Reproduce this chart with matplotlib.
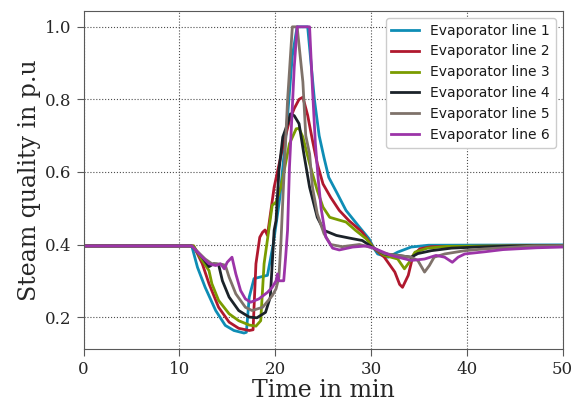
import matplotlib
matplotlib.use("Agg")
import matplotlib.pyplot as plt

# ---- data (time in min, steam quality in p.u.) ----
t1 = [0, 11.3, 11.9, 12.7, 13.8, 14.8, 15.7, 16.75, 17.0, 17.3, 17.8, 18.7, 19.2, 19.8, 20.5, 21.2, 21.8, 22.3, 23.4, 24.1, 24.6, 25.1, 25.6, 26.5, 27.4, 28.8, 29.8, 30.3, 30.7, 31.8, 32.8, 34.2, 36.0, 50]
v1 = [0.396, 0.396, 0.337, 0.282, 0.218, 0.177, 0.163, 0.156, 0.158, 0.255, 0.306, 0.312, 0.315, 0.40, 0.53, 0.72, 0.92, 1.0, 1.0, 0.80, 0.70, 0.64, 0.585, 0.54, 0.494, 0.448, 0.416, 0.39, 0.374, 0.365, 0.379, 0.393, 0.398, 0.399]

t2 = [0, 11.5, 12.4, 13.1, 14.1, 15.2, 16.2, 17.3, 17.7, 18.0, 18.4, 18.7, 18.95, 19.2, 19.9, 20.8, 21.5, 22.0, 22.5, 22.9, 23.4, 23.9, 24.4, 25.0, 25.8, 26.7, 27.7, 29.1, 30.3, 31.4, 32.5, 33.0, 33.3, 33.9, 34.4, 35.1, 36.3, 50]
v2 = [0.396, 0.396, 0.347, 0.292, 0.227, 0.186, 0.169, 0.163, 0.165, 0.347, 0.42, 0.434, 0.44, 0.425, 0.558, 0.668, 0.742, 0.775, 0.80, 0.806, 0.756, 0.687, 0.623, 0.567, 0.53, 0.494, 0.466, 0.434, 0.39, 0.365, 0.324, 0.29, 0.282, 0.315, 0.37, 0.388, 0.394, 0.397]

t3 = [0, 11.5, 12.3, 13.1, 13.4, 14.1, 15.2, 16.2, 17.3, 18.0, 18.5, 18.85, 19.7, 20.1, 20.6, 21.5, 22.2, 22.5, 22.9, 23.6, 24.4, 25.0, 25.7, 26.6, 27.4, 28.4, 29.5, 30.3, 31.4, 32.8, 33.5, 34.0, 34.6, 35.9, 38.0, 50]
v3 = [0.396, 0.396, 0.36, 0.328, 0.292, 0.246, 0.209, 0.19, 0.178, 0.175, 0.19, 0.347, 0.508, 0.517, 0.558, 0.678, 0.719, 0.72, 0.696, 0.623, 0.549, 0.503, 0.475, 0.468, 0.462, 0.439, 0.416, 0.39, 0.37, 0.36, 0.333, 0.351, 0.379, 0.39, 0.395, 0.397]

t4 = [0, 11.3, 12.4, 13.1, 13.6, 14.1, 14.5, 15.2, 16.2, 17.3, 18.1, 19.0, 19.5, 19.9, 20.1, 20.4, 20.8, 21.3, 21.6, 22.0, 22.5, 23.0, 23.6, 24.4, 25.1, 26.4, 27.7, 29.1, 30.3, 31.4, 32.8, 34.2, 34.9, 36.3, 38.4, 41.0, 45.0, 50]
v4 = [0.396, 0.396, 0.365, 0.339, 0.347, 0.345, 0.30, 0.255, 0.218, 0.20, 0.198, 0.213, 0.255, 0.439, 0.466, 0.604, 0.696, 0.733, 0.76, 0.755, 0.733, 0.65, 0.558, 0.475, 0.439, 0.425, 0.418, 0.411, 0.39, 0.374, 0.37, 0.365, 0.375, 0.383, 0.39, 0.393, 0.396, 0.397]

t5 = [0, 11.3, 12.7, 13.4, 13.9, 14.5, 14.8, 15.2, 15.9, 16.9, 17.6, 18.7, 19.7, 20.1, 20.4, 20.6, 20.8, 21.3, 21.8, 22.3, 22.9, 23.2, 23.6, 23.9, 24.4, 25.1, 25.8, 27.0, 28.8, 30.3, 31.4, 32.8, 34.2, 34.9, 35.6, 36.1, 36.6, 37.7, 39.8, 41.9, 47.0, 50]
v5 = [0.396, 0.396, 0.36, 0.347, 0.347, 0.345, 0.343, 0.31, 0.264, 0.227, 0.218, 0.227, 0.259, 0.278, 0.31, 0.40, 0.52, 0.797, 1.0, 1.0, 0.848, 0.70, 0.65, 0.558, 0.485, 0.43, 0.40, 0.394, 0.40, 0.39, 0.375, 0.37, 0.365, 0.356, 0.324, 0.342, 0.365, 0.374, 0.383, 0.388, 0.396, 0.397]

t6 = [0, 11.3, 12.4, 13.1, 13.8, 14.3, 14.7, 15.0, 15.5, 15.9, 16.4, 16.9, 17.45, 18.3, 19.2, 19.7, 20.1, 20.25, 20.4, 20.9, 21.1, 21.3, 21.5, 22.0, 22.3, 23.6, 23.9, 24.2, 24.5, 24.8, 25.3, 26.0, 26.7, 28.1, 29.5, 30.3, 32.1, 34.2, 35.6, 36.8, 37.7, 38.5, 39.1, 39.8, 41.9, 43.8, 47.3, 50]
v6 = [0.396, 0.396, 0.365, 0.347, 0.342, 0.347, 0.333, 0.351, 0.365, 0.319, 0.273, 0.25, 0.241, 0.25, 0.268, 0.282, 0.30, 0.319, 0.30, 0.30, 0.365, 0.439, 0.613, 0.89, 1.0, 1.0, 0.83, 0.68, 0.58, 0.50, 0.42, 0.39, 0.385, 0.393, 0.396, 0.39, 0.37, 0.356, 0.36, 0.37, 0.365, 0.351, 0.365, 0.374, 0.38, 0.386, 0.391, 0.393]

labels = ["Evaporator line 1", "Evaporator line 2", "Evaporator line 3",
          "Evaporator line 4", "Evaporator line 5", "Evaporator line 6"]
colors = ["#0e8db5", "#b0182e", "#7a9c00", "#1b2229", "#7f726a", "#9c34a8"]

xticks = [0, 10, 20, 30, 40, 50]
yticks = [0.2, 0.4, 0.6, 0.8, 1.0]

fig = plt.figure(figsize=(5.81, 4.05), dpi=100)
ax = fig.add_axes([83.5 / 581, 1 - 349 / 405, (562.5 - 83.5) / 581, (349 - 11) / 405])

series = [(t1, v1), (t2, v2), (t3, v3), (t4, v4), (t5, v5), (t6, v6)]
for (t, v), lab, c in zip(series, labels, colors):
    ax.plot(t, v, color=c, lw=2.0, label=lab)

ax.set_xlim(0, 50)
ax.set_ylim(0.112, 1.0436)
ax.set_xticks(xticks)
ax.set_yticks(yticks)
ax.set_yticklabels([f"{y:.1f}" for y in yticks])

ax.grid(True, linestyle=':', color='0.3', lw=0.8)
for s in ax.spines.values():
    s.set_color('0.35')
ax.tick_params(direction='out', length=5, color='0.35', labelsize=12)
for lab in ax.get_xticklabels() + ax.get_yticklabels():
    lab.set_family('DejaVu Serif')
    lab.set_color('0.15')

ax.set_xlabel("Time in min", fontsize=17, family='DejaVu Serif', color='0.15', labelpad=1)
ax.set_ylabel("Steam quality in p.u", fontsize=17, family='DejaVu Serif', color='0.15', labelpad=3)

leg = ax.legend(loc='upper right', fontsize=10, framealpha=1.0, edgecolor='0.8', fancybox=True)
for txt in leg.get_texts():
    txt.set_family('DejaVu Sans')
    txt.set_color('0.1')

fig.savefig("out.png", dpi=100)
